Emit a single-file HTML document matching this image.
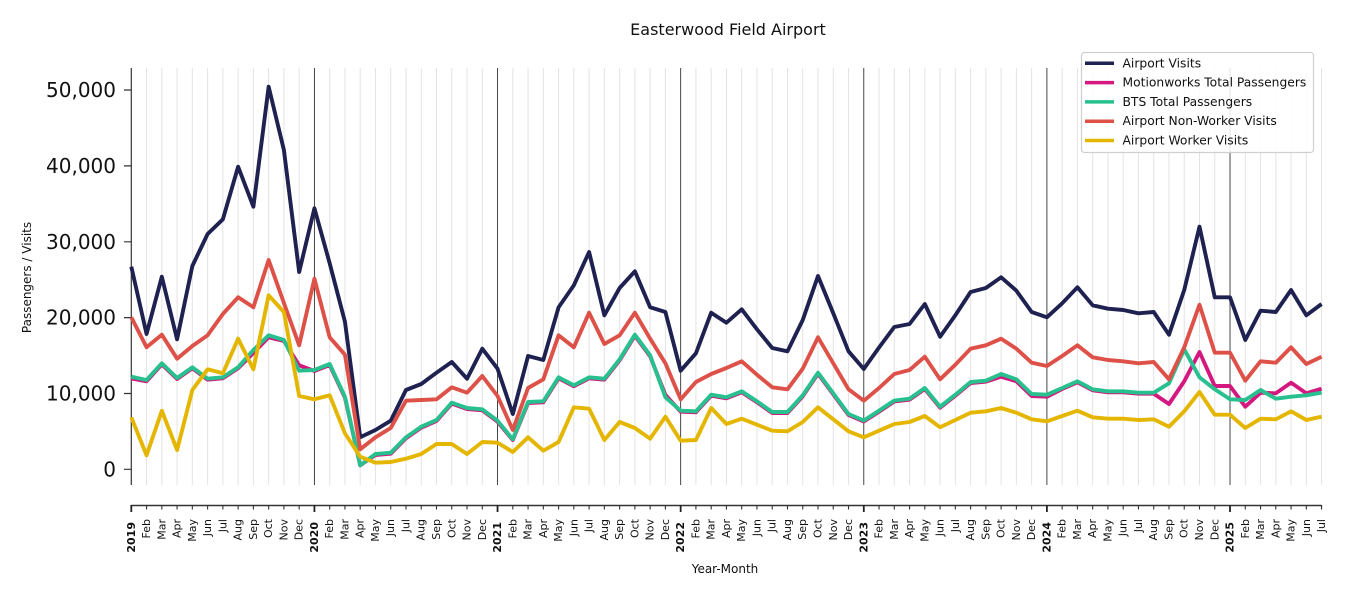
<!DOCTYPE html>
<html><head><meta charset="utf-8"><style>
html,body{margin:0;padding:0;background:#fff;}
svg{display:block;font-family:"DejaVu Sans","Liberation Sans",sans-serif;}
</style></head><body>
<svg width="1350" height="600" viewBox="0 0 1350 600" xmlns="http://www.w3.org/2000/svg">
<rect width="1350" height="600" fill="#fff"/>
<text x="728" y="35" font-size="16" text-anchor="middle" fill="#111">Easterwood Field Airport</text>

<!-- month gridlines -->
<g transform="translate(131.3,0) scale(15.26,1)">
<path vector-effect="non-scaling-stroke" stroke="#e3e3e3" stroke-width="1" fill="none" d="M1 68V485M2 68V485M3 68V485M4 68V485M5 68V485M6 68V485M7 68V485M8 68V485M9 68V485M10 68V485M11 68V485M13 68V485M14 68V485M15 68V485M16 68V485M17 68V485M18 68V485M19 68V485M20 68V485M21 68V485M22 68V485M23 68V485M25 68V485M26 68V485M27 68V485M28 68V485M29 68V485M30 68V485M31 68V485M32 68V485M33 68V485M34 68V485M35 68V485M37 68V485M38 68V485M39 68V485M40 68V485M41 68V485M42 68V485M43 68V485M44 68V485M45 68V485M46 68V485M47 68V485M49 68V485M50 68V485M51 68V485M52 68V485M53 68V485M54 68V485M55 68V485M56 68V485M57 68V485M58 68V485M59 68V485M61 68V485M62 68V485M63 68V485M64 68V485M65 68V485M66 68V485M67 68V485M68 68V485M69 68V485M70 68V485M71 68V485M73 68V485M74 68V485M75 68V485M76 68V485M77 68V485M78 68V485"/>
<path vector-effect="non-scaling-stroke" stroke="#333" stroke-width="0.9" fill="none" d="M12 68V485M24 68V485M36 68V485M48 68V485M60 68V485M72 68V485"/>
</g>

<!-- y axis spine & ticks -->
<path d="M131.3 68V485" stroke="#333" stroke-width="1.2" fill="none"/>
<path d="M124 90H131.3M124 165.9H131.3M124 241.8H131.3M124 317.6H131.3M124 393.5H131.3M124 469.3H131.3" stroke="#333" stroke-width="1.2" fill="none"/>
<g font-size="20" text-anchor="end" dominant-baseline="central" fill="#111">
<text x="116" y="90">50,000</text>
<text x="116" y="165.9">40,000</text>
<text x="116" y="241.8">30,000</text>
<text x="116" y="317.6">20,000</text>
<text x="116" y="393.5">10,000</text>
<text x="116" y="469.3">0</text>
</g>
<text transform="translate(27,277.5) rotate(-90)" font-size="12" text-anchor="middle" dominant-baseline="central" fill="#111">Passengers / Visits</text>

<!-- series -->
<g transform="translate(131.3,0) scale(15.26,1)" fill="none" stroke-width="3.9" stroke-linejoin="round" stroke-linecap="butt">
<polyline vector-effect="non-scaling-stroke" stroke="#1f2150" points="0,266.7 1,334 2,276.7 3,339.3 4,266 5,234 6,219.3 7,166.7 8,206.7 9,86.7 10,150 11,272 12,208.3 13,263.3 14,321.7 15,437.3 16,430 17,420.7 18,390 19,384 20,372.7 21,362 22,378.7 23,348.7 24,368.7 25,414 26,356 27,360 28,307.3 29,285.3 30,252 31,315.3 32,288 33,271.3 34,307.3 35,312 36,370.7 37,353.3 38,312.7 39,322.7 40,309.3 41,329.3 42,348 43,351.3 44,320 45,276 46,313.3 47,351.3 48,369 49,347.5 50,327 51,324 52,304 53,336.7 54,315.3 55,292 56,288 57,277.3 58,290.7 59,312 60,317.3 61,303.3 62,287.3 63,305.3 64,308.7 65,310 66,313.3 67,312 68,334.7 69,290 70,226.7 71,297.3 72,297.3 73,340 74,310.7 75,312 76,290 77,315.3 78,304"/>
<polyline vector-effect="non-scaling-stroke" stroke="#d4187f" points="0,378.5 1,381.3 2,364.3 3,379 4,368.3 5,379.7 6,378.3 7,368.3 8,353 9,337.3 10,341 11,365.3 12,371 13,365 14,397.7 15,465.3 16,455 17,453.7 18,438.3 19,427.7 20,421 21,403.7 22,409 23,410.3 24,421.7 25,440 26,403 27,402.3 28,378.3 29,386.3 30,378.3 31,379.7 32,360.3 33,335.7 34,356.3 35,395 36,411.7 37,412.3 38,395.7 39,398.3 40,392.3 41,402.3 42,413 43,413 44,396.3 45,373.7 46,394.3 47,415 48,421.5 49,411.7 50,401.5 51,399.7 52,389 53,407.7 54,395.7 55,383 56,381.7 57,376.7 58,381.3 59,396 60,396.7 61,389 62,382.3 63,390.3 64,392.3 65,392.3 66,393.7 67,393.7 68,404 69,381.3 70,352 71,386 72,386 73,406.7 74,392.7 75,393.3 76,382.7 77,393.3 78,388.7"/>
<polyline vector-effect="non-scaling-stroke" stroke="#28c08e" points="0,376.7 1,380 2,363.3 3,378 4,367.3 5,378.7 6,377.3 7,367.3 8,350 9,335.3 10,340 11,370.7 12,370 13,364 14,396.7 15,465.3 16,454 17,452.7 18,437.3 19,426.7 20,420 21,402.7 22,408 23,409.3 24,420.7 25,439.3 26,402 27,401.3 28,377.3 29,385.3 30,377.3 31,378.7 32,359.3 33,334.7 34,355.3 35,397.3 36,410.7 37,411.3 38,394.7 39,397.3 40,391.3 41,401.3 42,412 43,412 44,395.3 45,372.7 46,393.3 47,414 48,420.5 49,410.7 50,400.5 51,398.7 52,388 53,406.7 54,394.7 55,382 56,380.7 57,374 58,379.3 59,394 60,394.7 61,388 62,381.3 63,389.3 64,391.3 65,391.3 66,392.7 67,392.7 68,383.3 69,349.3 70,377.3 71,389.3 72,399.3 73,400 74,390 75,398.7 76,396.7 77,395.3 78,392.7"/>
<polyline vector-effect="non-scaling-stroke" stroke="#dd5148" points="0,317.3 1,347.3 2,334.7 3,358.7 4,346 5,335.3 6,314 7,297.3 8,307.3 9,260 10,303 11,345.3 12,278.7 13,337.3 14,354.7 15,449.3 16,437.3 17,428 18,400.7 19,400 20,399.3 21,387.3 22,392.7 23,376 24,396 25,430 26,388 27,379.3 28,335.3 29,347.3 30,312.7 31,344 32,335.3 33,312.7 34,338.7 35,363.3 36,399.3 37,382 38,374 39,368 40,361.3 41,374.7 42,387.3 43,389.3 44,368.7 45,337.3 46,363.3 47,389.3 48,400.7 49,388 50,374 51,370 52,356.7 53,379.3 54,364.7 55,348.7 56,345.3 57,338.7 58,348.7 59,362.7 60,366 61,356 62,345.3 63,357.3 64,360 65,361.3 66,363.3 67,362 68,379.3 69,347.3 70,304.7 71,352.7 72,352.7 73,380.7 74,361.3 75,362.7 76,347.3 77,364 78,356.7"/>
<polyline vector-effect="non-scaling-stroke" stroke="#e4b600" points="0,417.3 1,455.3 2,410.7 3,450 4,390 5,369.3 6,373.3 7,338.7 8,369.3 9,295.3 10,312 11,396 12,399.3 13,395.3 14,433.3 15,456.7 16,462.7 17,462 18,458.7 19,454 20,444 21,444 22,454 23,442 24,442.7 25,452 26,437.3 27,450.7 28,442 29,407.3 30,408.7 31,440 32,422 33,428 34,438.7 35,416.7 36,440.7 37,440 38,408 39,424 40,418.7 41,424.7 42,430.7 43,431.3 44,422 45,407.3 46,419.3 47,431.3 48,437.3 49,430.7 50,424 51,422 52,416 53,427.3 54,420 55,412.7 56,411.3 57,408 58,412.7 59,419.3 60,421.3 61,416 62,410.7 63,417.3 64,418.7 65,418.7 66,420 67,419.3 68,426.7 69,411.3 70,392 71,414.7 72,414.7 73,428 74,418.7 75,419.3 76,411.3 77,420 78,416.7"/>
</g>

<!-- x axis spine & ticks -->
<path d="M131.3 505.5H1321.6" stroke="#333" stroke-width="1.4" fill="none"/>
<g transform="translate(131.3,0) scale(15.26,1)">
<path vector-effect="non-scaling-stroke" stroke="#333" stroke-width="1.1" fill="none" d="M1 505V509.5M2 505V509.5M3 505V509.5M4 505V509.5M5 505V509.5M6 505V509.5M7 505V509.5M8 505V509.5M9 505V509.5M10 505V509.5M11 505V509.5M13 505V509.5M14 505V509.5M15 505V509.5M16 505V509.5M17 505V509.5M18 505V509.5M19 505V509.5M20 505V509.5M21 505V509.5M22 505V509.5M23 505V509.5M25 505V509.5M26 505V509.5M27 505V509.5M28 505V509.5M29 505V509.5M30 505V509.5M31 505V509.5M32 505V509.5M33 505V509.5M34 505V509.5M35 505V509.5M37 505V509.5M38 505V509.5M39 505V509.5M40 505V509.5M41 505V509.5M42 505V509.5M43 505V509.5M44 505V509.5M45 505V509.5M46 505V509.5M47 505V509.5M49 505V509.5M50 505V509.5M51 505V509.5M52 505V509.5M53 505V509.5M54 505V509.5M55 505V509.5M56 505V509.5M57 505V509.5M58 505V509.5M59 505V509.5M61 505V509.5M62 505V509.5M63 505V509.5M64 505V509.5M65 505V509.5M66 505V509.5M67 505V509.5M68 505V509.5M69 505V509.5M70 505V509.5M71 505V509.5M73 505V509.5M74 505V509.5M75 505V509.5M76 505V509.5M77 505V509.5M78 505V509.5"/>
<path vector-effect="non-scaling-stroke" stroke="#222" stroke-width="1.8" fill="none" d="M0 505V512M12 505V512M24 505V512M36 505V512M48 505V512M60 505V512M72 505V512"/>
</g>

<g font-size="11" text-anchor="end" dominant-baseline="central" fill="#111">
<text transform="translate(131.3,522) rotate(-90)" font-weight="bold">2019</text>
<text transform="translate(146.6,519) rotate(-90)">Feb</text>
<text transform="translate(161.8,519) rotate(-90)">Mar</text>
<text transform="translate(177.1,519) rotate(-90)">Apr</text>
<text transform="translate(192.3,519) rotate(-90)">May</text>
<text transform="translate(207.6,519) rotate(-90)">Jun</text>
<text transform="translate(222.9,519) rotate(-90)">Jul</text>
<text transform="translate(238.1,519) rotate(-90)">Aug</text>
<text transform="translate(253.4,519) rotate(-90)">Sep</text>
<text transform="translate(268.6,519) rotate(-90)">Oct</text>
<text transform="translate(283.9,519) rotate(-90)">Nov</text>
<text transform="translate(299.2,519) rotate(-90)">Dec</text>
<text transform="translate(314.4,522) rotate(-90)" font-weight="bold">2020</text>
<text transform="translate(329.7,519) rotate(-90)">Feb</text>
<text transform="translate(344.9,519) rotate(-90)">Mar</text>
<text transform="translate(360.2,519) rotate(-90)">Apr</text>
<text transform="translate(375.5,519) rotate(-90)">May</text>
<text transform="translate(390.7,519) rotate(-90)">Jun</text>
<text transform="translate(406.0,519) rotate(-90)">Jul</text>
<text transform="translate(421.2,519) rotate(-90)">Aug</text>
<text transform="translate(436.5,519) rotate(-90)">Sep</text>
<text transform="translate(451.8,519) rotate(-90)">Oct</text>
<text transform="translate(467.0,519) rotate(-90)">Nov</text>
<text transform="translate(482.3,519) rotate(-90)">Dec</text>
<text transform="translate(497.5,522) rotate(-90)" font-weight="bold">2021</text>
<text transform="translate(512.8,519) rotate(-90)">Feb</text>
<text transform="translate(528.1,519) rotate(-90)">Mar</text>
<text transform="translate(543.3,519) rotate(-90)">Apr</text>
<text transform="translate(558.6,519) rotate(-90)">May</text>
<text transform="translate(573.8,519) rotate(-90)">Jun</text>
<text transform="translate(589.1,519) rotate(-90)">Jul</text>
<text transform="translate(604.4,519) rotate(-90)">Aug</text>
<text transform="translate(619.6,519) rotate(-90)">Sep</text>
<text transform="translate(634.9,519) rotate(-90)">Oct</text>
<text transform="translate(650.1,519) rotate(-90)">Nov</text>
<text transform="translate(665.4,519) rotate(-90)">Dec</text>
<text transform="translate(680.7,522) rotate(-90)" font-weight="bold">2022</text>
<text transform="translate(695.9,519) rotate(-90)">Feb</text>
<text transform="translate(711.2,519) rotate(-90)">Mar</text>
<text transform="translate(726.4,519) rotate(-90)">Apr</text>
<text transform="translate(741.7,519) rotate(-90)">May</text>
<text transform="translate(757.0,519) rotate(-90)">Jun</text>
<text transform="translate(772.2,519) rotate(-90)">Jul</text>
<text transform="translate(787.5,519) rotate(-90)">Aug</text>
<text transform="translate(802.7,519) rotate(-90)">Sep</text>
<text transform="translate(818.0,519) rotate(-90)">Oct</text>
<text transform="translate(833.3,519) rotate(-90)">Nov</text>
<text transform="translate(848.5,519) rotate(-90)">Dec</text>
<text transform="translate(863.8,522) rotate(-90)" font-weight="bold">2023</text>
<text transform="translate(879.0,519) rotate(-90)">Feb</text>
<text transform="translate(894.3,519) rotate(-90)">Mar</text>
<text transform="translate(909.6,519) rotate(-90)">Apr</text>
<text transform="translate(924.8,519) rotate(-90)">May</text>
<text transform="translate(940.1,519) rotate(-90)">Jun</text>
<text transform="translate(955.3,519) rotate(-90)">Jul</text>
<text transform="translate(970.6,519) rotate(-90)">Aug</text>
<text transform="translate(985.9,519) rotate(-90)">Sep</text>
<text transform="translate(1001.1,519) rotate(-90)">Oct</text>
<text transform="translate(1016.4,519) rotate(-90)">Nov</text>
<text transform="translate(1031.6,519) rotate(-90)">Dec</text>
<text transform="translate(1046.9,522) rotate(-90)" font-weight="bold">2024</text>
<text transform="translate(1062.2,519) rotate(-90)">Feb</text>
<text transform="translate(1077.4,519) rotate(-90)">Mar</text>
<text transform="translate(1092.7,519) rotate(-90)">Apr</text>
<text transform="translate(1107.9,519) rotate(-90)">May</text>
<text transform="translate(1123.2,519) rotate(-90)">Jun</text>
<text transform="translate(1138.5,519) rotate(-90)">Jul</text>
<text transform="translate(1153.7,519) rotate(-90)">Aug</text>
<text transform="translate(1169.0,519) rotate(-90)">Sep</text>
<text transform="translate(1184.2,519) rotate(-90)">Oct</text>
<text transform="translate(1199.5,519) rotate(-90)">Nov</text>
<text transform="translate(1214.8,519) rotate(-90)">Dec</text>
<text transform="translate(1230.0,522) rotate(-90)" font-weight="bold">2025</text>
<text transform="translate(1245.3,519) rotate(-90)">Feb</text>
<text transform="translate(1260.5,519) rotate(-90)">Mar</text>
<text transform="translate(1275.8,519) rotate(-90)">Apr</text>
<text transform="translate(1291.1,519) rotate(-90)">May</text>
<text transform="translate(1306.3,519) rotate(-90)">Jun</text>
<text transform="translate(1321.6,519) rotate(-90)">Jul</text>
</g>
<text x="725" y="573" font-size="12" text-anchor="middle" fill="#111">Year-Month</text>

<!-- legend -->
<rect x="1081.5" y="52.5" width="232" height="100" rx="3" fill="#fff" fill-opacity="0.85" stroke="#cfcfcf" stroke-width="1.2"/>
<g stroke-width="3.5" fill="none">
<path d="M1085 63.3H1114" stroke="#1f2150"/>
<path d="M1085 82.6H1114" stroke="#d4187f"/>
<path d="M1085 101.9H1114" stroke="#28c08e"/>
<path d="M1085 121.2H1114" stroke="#dd5148"/>
<path d="M1085 140.5H1114" stroke="#e4b600"/>
</g>
<g font-size="12.3" dominant-baseline="central" fill="#111">
<text x="1122.5" y="63.3">Airport Visits</text>
<text x="1122.5" y="82.6">Motionworks Total Passengers</text>
<text x="1122.5" y="101.9">BTS Total Passengers</text>
<text x="1122.5" y="121.2">Airport Non-Worker Visits</text>
<text x="1122.5" y="140.5">Airport Worker Visits</text>
</g>
</svg>
</body></html>
